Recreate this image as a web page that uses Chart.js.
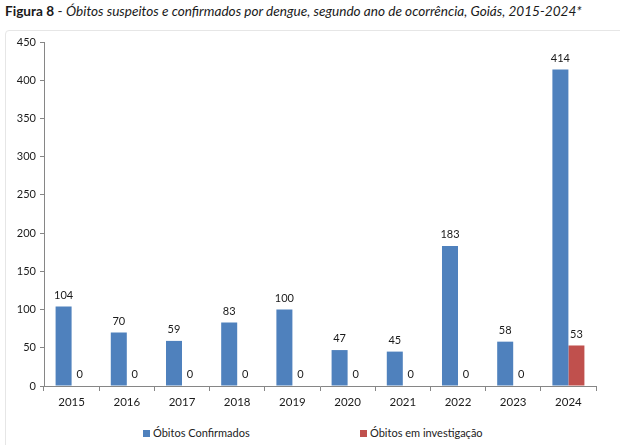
<!DOCTYPE html>
<html>
<head>
<meta charset="utf-8">
<script src="https://cdn.jsdelivr.net/npm/chart.js@4.4.1/dist/chart.umd.min.js"></script>
<style>
    body { margin: 0; background: #fff; font-family: Lato, "Noto Sans", sans-serif; overflow: hidden; }
    .title { position: absolute; left: 5px; top: 3px; font-size: 13.6px; color: #1a1a1a; white-space: nowrap; }
    .title b { font-weight: bold; }
    .title i { font-style: italic; }
    .frame { position: absolute; left: 5px; top: 30px; width: 640px; height: 430px; border: 1px solid #e6e6e6; border-radius: 4px; }
    .wrap { position: absolute; left: 0; top: 30px; width: 620px; height: 390px; }
    .legend { position: absolute; top: 426px; font-size: 11px; color: #222; white-space: nowrap; }
    .legend span.box { display: inline-block; width: 7px; height: 7px; margin-right: 3px; }
</style>
</head>
<body>
<div class="title"><b>Figura 8</b> - <i>Óbitos suspeitos e confirmados por dengue, segundo ano de ocorrência, Goiás, 2015-2024*</i></div>
<div class="frame"></div>
<div class="wrap"><canvas id="chart"></canvas></div>
<div class="legend" style="left:143px"><span class="box" style="background:#4F81BD"></span>Óbitos Confirmados</div>
<div class="legend" style="left:360px"><span class="box" style="background:#C0504D"></span>Óbitos em investigação</div>
<script>
// Data
const years = ['2015', '2016', '2017', '2018', '2019', '2020', '2021', '2022', '2023', '2024'];
const confirmados = [104, 70, 59, 83, 100, 47, 45, 183, 58, 414];
const investigacao = [0, 0, 0, 0, 0, 0, 0, 0, 0, 53];
const yTicks = [0, 50, 100, 150, 200, 250, 300, 350, 400, 450];

const blue = '#4F81BD';
const red = '#C0504D';
const axisColor = '#868686';
const fontFamily = 'Lato, "Noto Sans", sans-serif';

// Draw the value above every bar (zeros sit on the axis)
const valueLabels = {
    id: 'valueLabels',
    afterDatasetsDraw(chart) {
        const ctx = chart.ctx;
        ctx.save();
        ctx.font = '11px ' + fontFamily;
        ctx.fillStyle = '#1a1a1a';
        ctx.textAlign = 'center';
        ctx.textBaseline = 'bottom';
        chart.data.datasets.forEach((ds, i) => {
            const meta = chart.getDatasetMeta(i);
            meta.data.forEach((bar, j) => {
                ctx.fillText(String(ds.data[j]), bar.x, bar.y - 6);
            });
        });
        ctx.restore();
    }
};

new Chart(document.getElementById('chart'), {
    type: 'bar',
    data: {
        labels: years,
        datasets: [{
            label: 'Óbitos Confirmados',
            data: confirmados,
            backgroundColor: blue,
            categoryPercentage: 0.58,
            barPercentage: 1
        }, {
            label: 'Óbitos em investigação',
            data: investigacao,
            backgroundColor: red,
            categoryPercentage: 0.58,
            barPercentage: 1
        }]
    },
    options: {
        responsive: true,
        maintainAspectRatio: false,
        animation: false,
        layout: { padding: { left: 4, right: 24, top: 12, bottom: 10 } },
        plugins: {
            legend: { display: false },
            tooltip: { enabled: false }
        },
        scales: {
            x: {
                grid: { drawOnChartArea: false, color: axisColor, tickLength: 5, offset: true },
                border: { color: axisColor },
                ticks: { color: '#1a1a1a', font: { family: fontFamily, size: 11.5 }, padding: 4 },
                afterFit(scale) { scale.height = 24; }
            },
            y: {
                min: 0,
                max: 450,
                afterBuildTicks(scale) { scale.ticks = yTicks.map(v => ({ value: v })); },
                grid: { drawOnChartArea: false, color: axisColor, tickLength: 4 },
                border: { color: axisColor },
                ticks: { color: '#1a1a1a', font: { family: fontFamily, size: 11 }, padding: 4 },
                afterFit(scale) { scale.width = 40; }
            }
        }
    },
    plugins: [valueLabels]
});
</script>
</body>
</html>
